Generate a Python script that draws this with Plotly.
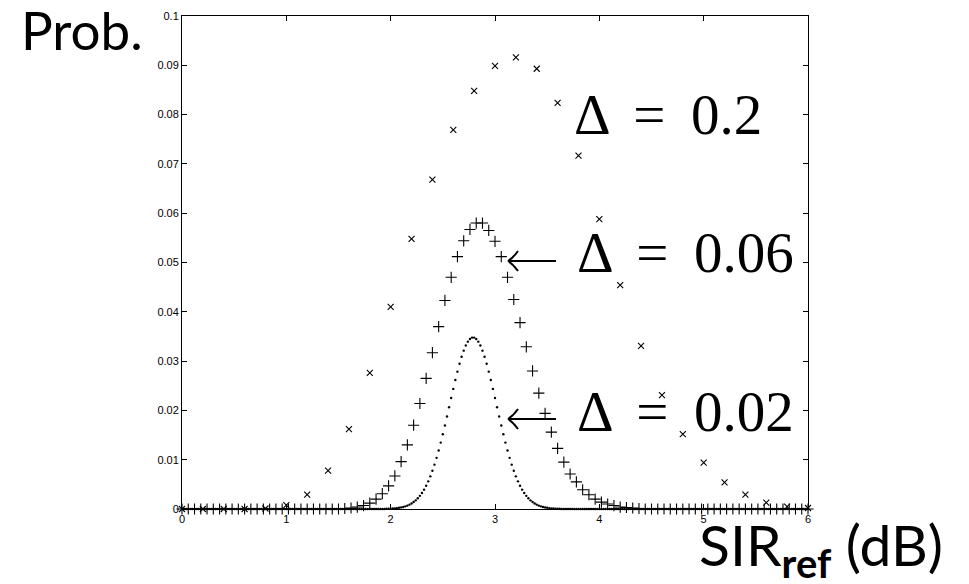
import numpy as np
import plotly.graph_objects as go

# ---- data ----
# Delta = 0.2 (x markers), SIR grid 0..6 step 0.2
sir_d02 = [round(0.2 * i, 2) for i in range(31)]
prob_d02 = [0, 0, 0, 0, 0.0001, 0.0008, 0.0029, 0.0078, 0.0162, 0.0276,
            0.0410, 0.0548, 0.0668, 0.0769, 0.0848, 0.0899, 0.0916, 0.0893,
            0.0824, 0.0717, 0.0588, 0.0454, 0.0331, 0.0231, 0.0152, 0.0094,
            0.0054, 0.0029, 0.0013, 0.0005, 0.0002]

# Delta = 0.06 (+ markers), SIR grid 0..6 step 0.06
sir_d006 = [round(0.06 * i, 2) for i in range(101)]
prob_d006 = ([0] * 26 +
             [0.0001, 0.0002, 0.0004, 0.0007, 0.0012, 0.0020, 0.0031, 0.0047,
              0.0067, 0.0096, 0.0130, 0.0170, 0.0214, 0.0265, 0.0317, 0.0370,
              0.0423, 0.0470, 0.0512, 0.0544, 0.0567, 0.0580, 0.0580, 0.0565,
              0.0543, 0.0512, 0.0470, 0.0425, 0.0378, 0.0329, 0.0280, 0.0235,
              0.0194, 0.0156, 0.0123, 0.0095, 0.0071, 0.0055, 0.0039, 0.0029,
              0.0020, 0.0014, 0.0010, 0.0007, 0.0004, 0.0003, 0.0002, 0.0001])
prob_d006 = prob_d006 + [0] * (101 - len(prob_d006))

# Delta = 0.02 (dots), SIR grid 0..6 step 0.02 ; non-zero part from 1.96 to 3.62
sir_d002 = [round(0.02 * i, 2) for i in range(301)]
d002_nonzero_start = 98  # index of SIR = 1.96
d002_nonzero = [0.00004, 0.00005, 0.00007, 0.00010, 0.00013, 0.00018, 0.00024,
                0.00032, 0.00041, 0.00054, 0.00069, 0.00088, 0.00112, 0.00141,
                0.00175, 0.00217, 0.00267, 0.00325, 0.00393, 0.00471, 0.00561,
                0.00662, 0.00775, 0.00900, 0.01038, 0.01187, 0.01347, 0.01517,
                0.01694, 0.01877, 0.02064, 0.02251, 0.02436, 0.02616, 0.02786,
                0.02945, 0.03088, 0.03212, 0.03316, 0.03395, 0.03449, 0.03477,
                0.03477, 0.03449, 0.03395, 0.03316, 0.03212, 0.03088, 0.02945,
                0.02786, 0.02616, 0.02436, 0.02251, 0.02064, 0.01877, 0.01694,
                0.01517, 0.01347, 0.01187, 0.01038, 0.00900, 0.00775, 0.00662,
                0.00561, 0.00471, 0.00393, 0.00325, 0.00267, 0.00217, 0.00175,
                0.00141, 0.00112, 0.00088, 0.00069, 0.00054, 0.00041, 0.00032,
                0.00024, 0.00018, 0.00013, 0.00010, 0.00007, 0.00005, 0.00004]
prob_d002 = [0.0] * 301
for k, v in enumerate(d002_nonzero):
    prob_d002[d002_nonzero_start + k] = v

x_ticks = [0, 1, 2, 3, 4, 5, 6]
y_ticks = [0, 0.01, 0.02, 0.03, 0.04, 0.05, 0.06, 0.07, 0.08, 0.09, 0.1]
y_tick_text = ["0", "0.01", "0.02", "0.03", "0.04", "0.05", "0.06", "0.07", "0.08", "0.09", "0.1"]

# ---- figure ----
fig = go.Figure()
fig.add_trace(go.Scatter(x=sir_d002, y=prob_d002, mode="markers", cliponaxis=False,
                         marker=dict(symbol="circle", size=2.4, color="black"),
                         showlegend=False))
fig.add_trace(go.Scatter(x=sir_d006, y=prob_d006, mode="markers", cliponaxis=False,
                         marker=dict(symbol="cross-thin", size=8,
                                     line=dict(color="black", width=1.1)),
                         showlegend=False))
fig.add_trace(go.Scatter(x=sir_d02, y=prob_d02, mode="markers", cliponaxis=False,
                         marker=dict(symbol="x-thin", size=6,
                                     line=dict(color="black", width=1.1)),
                         showlegend=False))

# page is drawn with an 8px body margin; plot area in page pixels: x 182..808, y 16..509
W, H = 961, 576
L, T = 174, 8
PW, PH = 626, 493
R, B = W - L - PW, H - T - PH
X0, Y1 = 182, 509


def px(xp):
    return (xp - X0) / PW


def py(yp):
    return (Y1 - yp) / PH


big_sans = dict(family="Lato, 'Noto Sans', sans-serif", size=53, color="black")
axis_sans = dict(family="Lato, 'Noto Sans', sans-serif", size=57, color="black")
serif = dict(family="'Liberation Serif', 'DejaVu Serif', serif", size=57, color="black")
sp = " \u2009"

ann = [
    dict(text="Prob.", x=px(82), y=py(30), font=big_sans),
    dict(text="SIR<sub><b>ref</b></sub> (dB)", x=px(821), y=py(548), font=axis_sans),
    dict(text="Δ" + sp + "=" + sp + "0.2", x=px(668), y=py(115), font=serif),
    dict(text="Δ" + sp + "=" + sp + "0.06", x=px(685), y=py(252), font=serif),
    dict(text="Δ" + sp + "=" + sp + "0.02", x=px(685), y=py(411), font=serif),
]
annotations = []
for a in ann:
    annotations.append(dict(text=a["text"], x=a["x"], y=a["y"], xref="paper", yref="paper",
                            xanchor="center", yanchor="middle", showarrow=False, font=a["font"]))

# long left arrows with open curved heads (LaTeX style)
shapes = []
for ya in (261, 419):
    tip, tail = 508, 556
    path = (f"M {px(tip)},{py(ya)} L {px(tail)},{py(ya)} "
            f"M {px(tip)},{py(ya)} Q {px(513)},{py(ya - 3)} {px(518)},{py(ya - 10)} "
            f"M {px(tip)},{py(ya)} Q {px(513)},{py(ya + 3)} {px(518)},{py(ya + 10)}")
    shapes.append(dict(type="path", xref="paper", yref="paper", path=path,
                       line=dict(color="black", width=2)))

fig.update_layout(
    width=W, height=H,
    margin=dict(l=L, r=R, t=T, b=B, autoexpand=False),
    paper_bgcolor="white", plot_bgcolor="white",
    annotations=annotations, shapes=shapes,
    font=dict(family="'Liberation Sans', Arial, sans-serif", size=11, color="black"),
)
fig.update_xaxes(range=[0, 6], tickvals=x_ticks, ticktext=[str(v) for v in x_ticks],
                 ticks="inside", ticklen=5, tickcolor="black", showline=True, linecolor="black",
                 linewidth=1, mirror="ticks", showgrid=False, zeroline=False,
                 tickfont=dict(size=11, color="black"))
fig.update_yaxes(range=[0, 0.1], tickvals=y_ticks, ticktext=y_tick_text,
                 ticks="inside", ticklen=5, tickcolor="black", showline=True, linecolor="black",
                 linewidth=1, mirror="ticks", showgrid=False, zeroline=False,
                 tickfont=dict(size=11, color="black"))

fig.write_html("out.html")
